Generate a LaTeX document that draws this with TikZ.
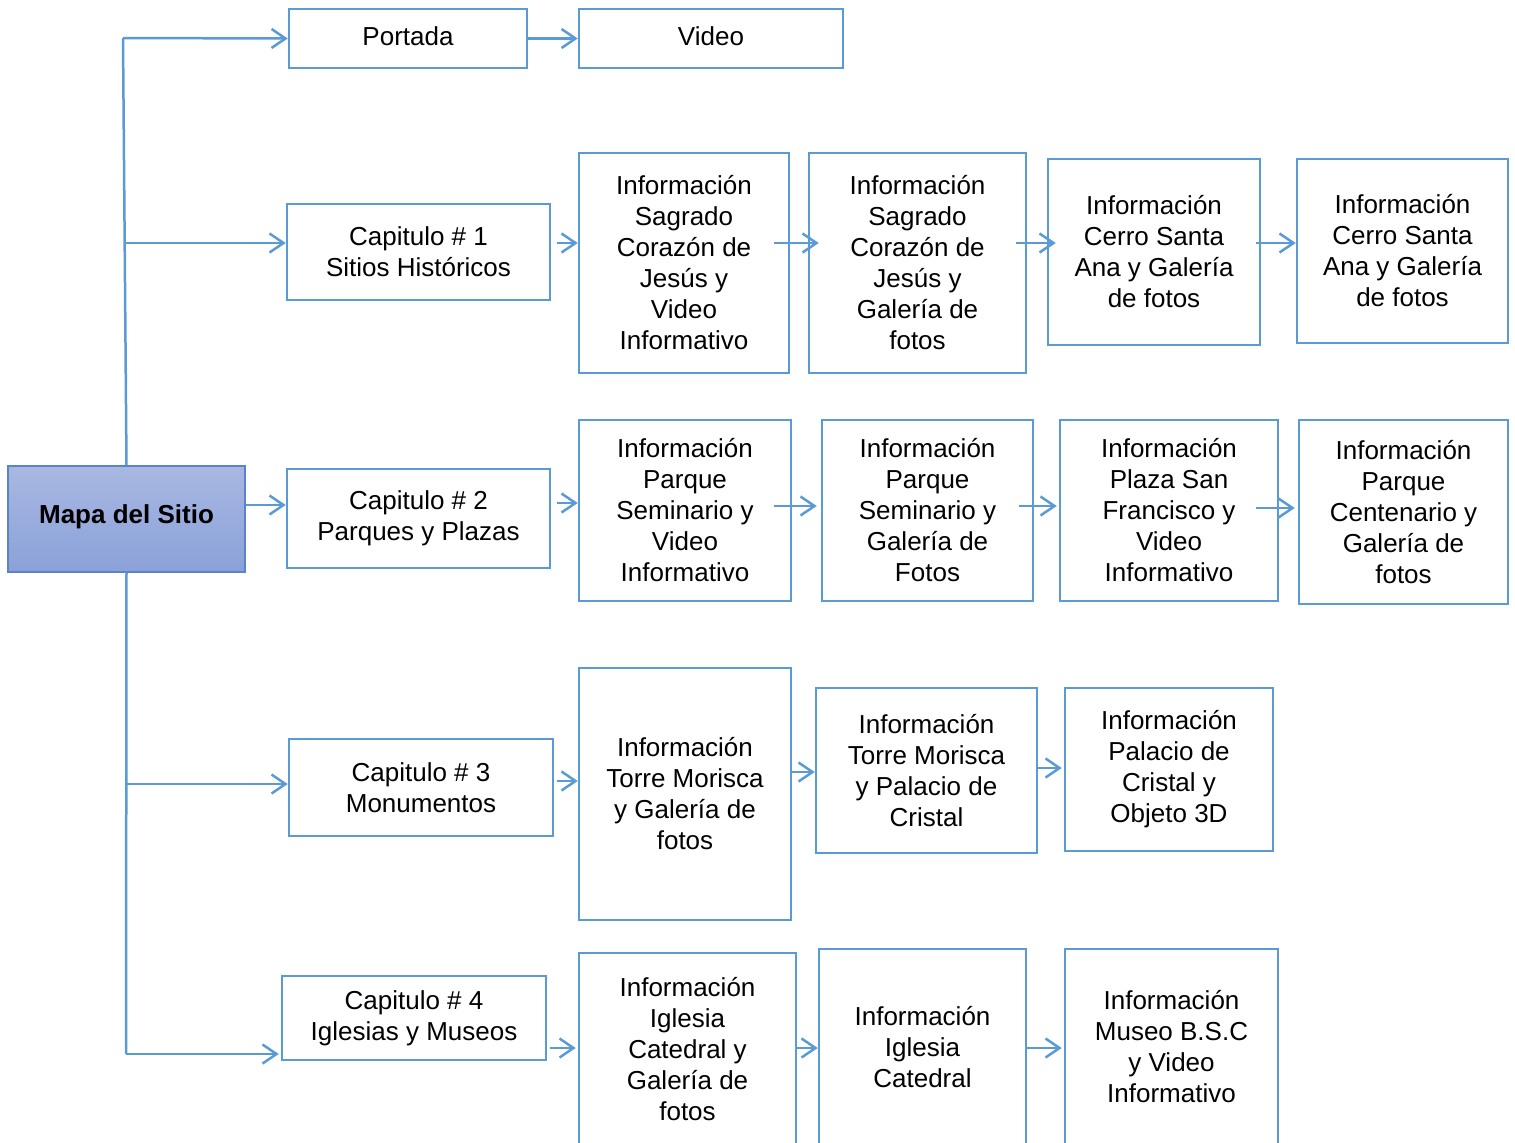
\documentclass[tikz,border=0pt]{standalone}
\usepackage{fontspec}
\setmainfont{Liberation Sans}
\usetikzlibrary{arrows.meta}
\definecolor{ln}{HTML}{5B9BD5}
\definecolor{mtop}{HTML}{A9B8E2}
\definecolor{mbot}{HTML}{8AA1D9}
\definecolor{mbord}{HTML}{5A83C9}
\tikzset{
  box/.style={draw=ln, line width=1.25pt, fill=white, align=center, inner sep=0pt,
    font=\fontsize{13pt}{15.5pt}\selectfont},
  conn/.style={draw=ln, line width=1.25pt},
  arr/.style={conn, -{Straight Barb[length=7pt, width=9.5pt, line width=1.25pt]}},
  mapbox/.style={draw=mbord, line width=0.8pt, top color=mtop, bottom color=mbot,
    align=center, inner sep=0pt, font=\fontsize{13pt}{15.5pt}\selectfont\bfseries}
}
\begin{document}
\begin{tikzpicture}[x=0.5pt, y=-0.5pt]
\useasboundingbox (0,0) rectangle (1515,1142);
\clip (0,0) rectangle (1515,1142);
\fill[white] (0,0) rectangle (1515,1142);

% main node
\node[mapbox, minimum width=118.5pt, minimum height=53pt] (map) at (126.5,519) {\raisebox{5pt}{Mapa del Sitio}};

% top row
\node[box, minimum width=119pt, minimum height=29.5pt] (portada) at (408,38.5) {\raisebox{2.5pt}{Portada}};
\node[box, minimum width=132pt, minimum height=29.5pt] (video) at (711,38.5) {\raisebox{2.5pt}{Video}};

% chapter 1
\node[box, minimum width=131.5pt, minimum height=48pt] (cap1) at (418.5,252) {Capitulo \# 1\\Sitios Históricos};
\node[box, minimum width=105pt, minimum height=110pt] (r1a) at (684,263) {Información\\Sagrado\\Corazón de\\Jesús y\\Video\\Informativo};
\node[box, minimum width=108.5pt, minimum height=110pt] (r1b) at (917.5,263) {Información\\Sagrado\\Corazón de\\Jesús y\\Galería de\\fotos};
\node[box, minimum width=106pt, minimum height=93pt] (r1c) at (1154,252) {Información\\Cerro Santa\\Ana y Galería\\de fotos};
\node[box, minimum width=105.5pt, minimum height=92pt] (r1d) at (1402.5,251) {Información\\Cerro Santa\\Ana y Galería\\de fotos};

% chapter 2
\node[box, minimum width=131.5pt, minimum height=49.5pt] (cap2) at (418.5,518.5) {Capitulo \# 2\\Parques y Plazas};
\node[box, minimum width=106pt, minimum height=90.5pt] (r2a) at (685,510.5) {Información\\Parque\\Seminario y\\Video\\Informativo};
\node[box, minimum width=105.5pt, minimum height=90.5pt] (r2b) at (927.5,510.5) {Información\\Parque\\Seminario y\\Galería de\\Fotos};
\node[box, minimum width=109pt, minimum height=90.5pt] (r2c) at (1169,510.5) {Información\\Plaza San\\Francisco y\\Video\\Informativo};
\node[box, minimum width=104.5pt, minimum height=92pt] (r2d) at (1403.5,512) {Información\\Parque\\Centenario y\\Galería de\\fotos};

% chapter 3
\node[box, minimum width=132pt, minimum height=48.5pt] (cap3) at (421,787.5) {Capitulo \# 3\\Monumentos};
\node[box, minimum width=106pt, minimum height=126pt] (r3a) at (685,794) {Información\\Torre Morisca\\y Galería de\\fotos};
\node[box, minimum width=110.5pt, minimum height=82.5pt] (r3b) at (926.5,770.5) {Información\\Torre Morisca\\y Palacio de\\Cristal};
\node[box, minimum width=104pt, minimum height=81.5pt] (r3c) at (1169,769.5) {Información\\Palacio de\\Cristal y\\Objeto 3D};

% chapter 4
\node[box, minimum width=132pt, minimum height=42pt] (cap4) at (414,1018) {Capitulo \# 4\\Iglesias y Museos};
\node[box, minimum width=108.5pt, minimum height=96pt] (r4a) at (687.5,1049) {Información\\Iglesia\\Catedral y\\Galería de\\fotos};
\node[box, minimum width=103.5pt, minimum height=98pt] (r4b) at (922.5,1047) {Información\\Iglesia\\Catedral};
\node[box, minimum width=106.5pt, minimum height=98pt] (r4c) at (1171.5,1047) {Información\\Museo B.S.C\\y Video\\Informativo};

% trunk
\coordinate (top) at (123,38);
\coordinate (j1) at (124,243);
\coordinate (j3) at (126,784);
\coordinate (j4) at (126,1054);
\draw[conn] (top) -- (map.north);
\draw[conn] (map.south) -- (j4);

% branches
\draw[arr] (top) -- (portada.west);
\draw[arr] (j1) -- (cap1.west |- j1);
\draw[arr] (map.east |- 0,505) -- (cap2.west |- 0,505);
\draw[arr] (j3) -- (cap3.west |- j3);
\draw[arr] (j4) -- ([xshift=-1pt]cap4.west |- j4);

% sequence arrows
\draw[arr] (portada.east) -- (video.west);

\draw[arr] ([xshift=3pt]cap1.east |- 0,243) -- (r1a.west |- 0,243);
\draw[arr] ([xshift=-8pt]r1a.east |- 0,243) -- ([xshift=5.5pt]r1b.west |- 0,243);
\draw[arr] ([xshift=-5.5pt]r1b.east |- 0,243) -- ([xshift=4.5pt]r1c.west |- 0,243);
\draw[arr] ([xshift=-2.5pt]r1c.east |- 0,243) -- (r1d.west |- 0,243);

\draw[arr] ([xshift=3pt]cap2.east |- 0,503) -- (r2a.west |- 0,503);
\draw[arr] ([xshift=-9pt]r2a.east |- 0,506) -- ([xshift=-2pt]r2b.west |- 0,506);
\draw[arr] ([xshift=-7.5pt]r2b.east |- 0,506) -- ([xshift=-1pt]r2c.west |- 0,506);
\draw[arr] ([xshift=-11.5pt]r2c.east |- 0,508) -- ([xshift=-1.5pt]r2d.west |- 0,508);

\draw[arr] ([xshift=1.5pt]cap3.east |- 0,781) -- (r3a.west |- 0,781);
\draw[arr] (r3a.east |- 0,772) -- (r3b.west |- 0,772);
\draw[arr] (r3b.east |- 0,768) -- ([xshift=-1pt]r3c.west |- 0,768);

\draw[arr] ([xshift=1.5pt]cap4.east |- 0,1048) -- ([xshift=-1pt]r4a.west |- 0,1048);
\draw[arr] (r4a.east |- 0,1048) -- (r4b.west |- 0,1048);
\draw[arr] (r4b.east |- 0,1048) -- ([xshift=-1pt]r4c.west |- 0,1048);
\end{tikzpicture}
\end{document}
